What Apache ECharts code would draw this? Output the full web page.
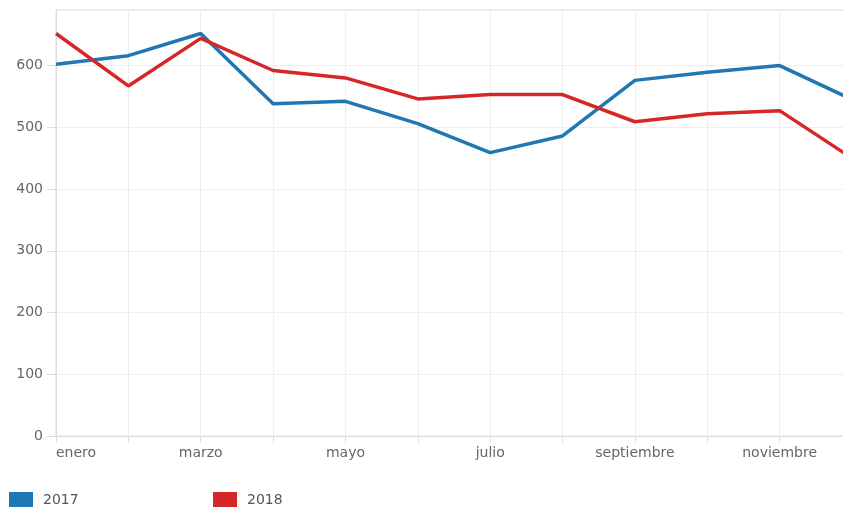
<!DOCTYPE html>
<html>
<head>
<meta charset="utf-8">
<script src="https://cdn.jsdelivr.net/npm/echarts@6/dist/echarts.min.js"></script>
<style>
html,body{margin:0;padding:0;background:#fff;overflow:hidden;}
#chart{width:843px;height:507px;}
</style>
</head>
<body>
<div id="chart"></div>
<script>
const months = ['enero','febrero','marzo','abril','mayo','junio','julio','agosto','septiembre','octubre','noviembre','diciembre'];
const seriesNames = ['2017','2018'];
const values2017 = [602, 616, 652, 538, 542, 506, 459, 486, 576, 589, 600, 545];
const values2018 = [652, 567, 644, 592, 580, 546, 553, 553, 509, 522, 527, 450];
const yTicks = [0, 100, 200, 300, 400, 500, 600];

const chart = echarts.init(document.getElementById('chart'), null, {renderer: 'canvas'});
const font = 'DejaVu Sans';
chart.setOption({
  animation: false,
  backgroundColor: '#fff',
  color: ['#1f77b4', '#d62728'],
  grid: {left: 56, top: 10, bottom: 71, right: -9, outerBoundsMode: 'none', show: true, borderColor: '#dddddd', borderWidth: 1, containLabel: false},
  legend: [
    {data: [seriesNames[0]], left: 9, top: 492, padding: 0, icon: 'rect', itemWidth: 24, itemHeight: 16,
     textStyle: {fontFamily: font, fontSize: 14, color: '#555', padding: [0,0,0,5]}},
    {data: [seriesNames[1]], left: 213, top: 492, padding: 0, icon: 'rect', itemWidth: 24, itemHeight: 16,
     textStyle: {fontFamily: font, fontSize: 14, color: '#555', padding: [0,0,0,5]}}
  ],
  xAxis: {
    type: 'category',
    data: months,
    boundaryGap: false,
    axisLine: {lineStyle: {color: '#dddddd'}},
    axisTick: {show: true, interval: 0, length: 7, lineStyle: {color: '#dddddd'}},
    splitLine: {show: true, interval: 0, lineStyle: {color: '#eeeeee'}},
    axisLabel: {interval: 1, margin: 10, fontFamily: font, fontSize: 14, color: '#666', alignMinLabel: 'left'}
  },
  yAxis: {
    type: 'value',
    min: 0,
    max: 690,
    interval: 100,
    axisLine: {show: true, lineStyle: {color: '#dddddd'}},
    axisTick: {show: true, length: 9, lineStyle: {color: '#dddddd'}},
    splitLine: {show: true, lineStyle: {color: '#eeeeee'}},
    axisLabel: {margin: 13, fontFamily: font, fontSize: 14, color: '#666', showMaxLabel: false,
      formatter: v => yTicks.includes(v) ? String(v) : ''}
  },
  series: [
    {name: seriesNames[0], type: 'line', data: values2017, showSymbol: false, symbol: 'none',
     lineStyle: {width: 3.5, color: '#1f77b4'}, itemStyle: {color: '#1f77b4'}},
    {name: seriesNames[1], type: 'line', data: values2018, showSymbol: false, symbol: 'none',
     lineStyle: {width: 3.5, color: '#d62728'}, itemStyle: {color: '#d62728'}}
  ]
});
</script>
</body>
</html>
